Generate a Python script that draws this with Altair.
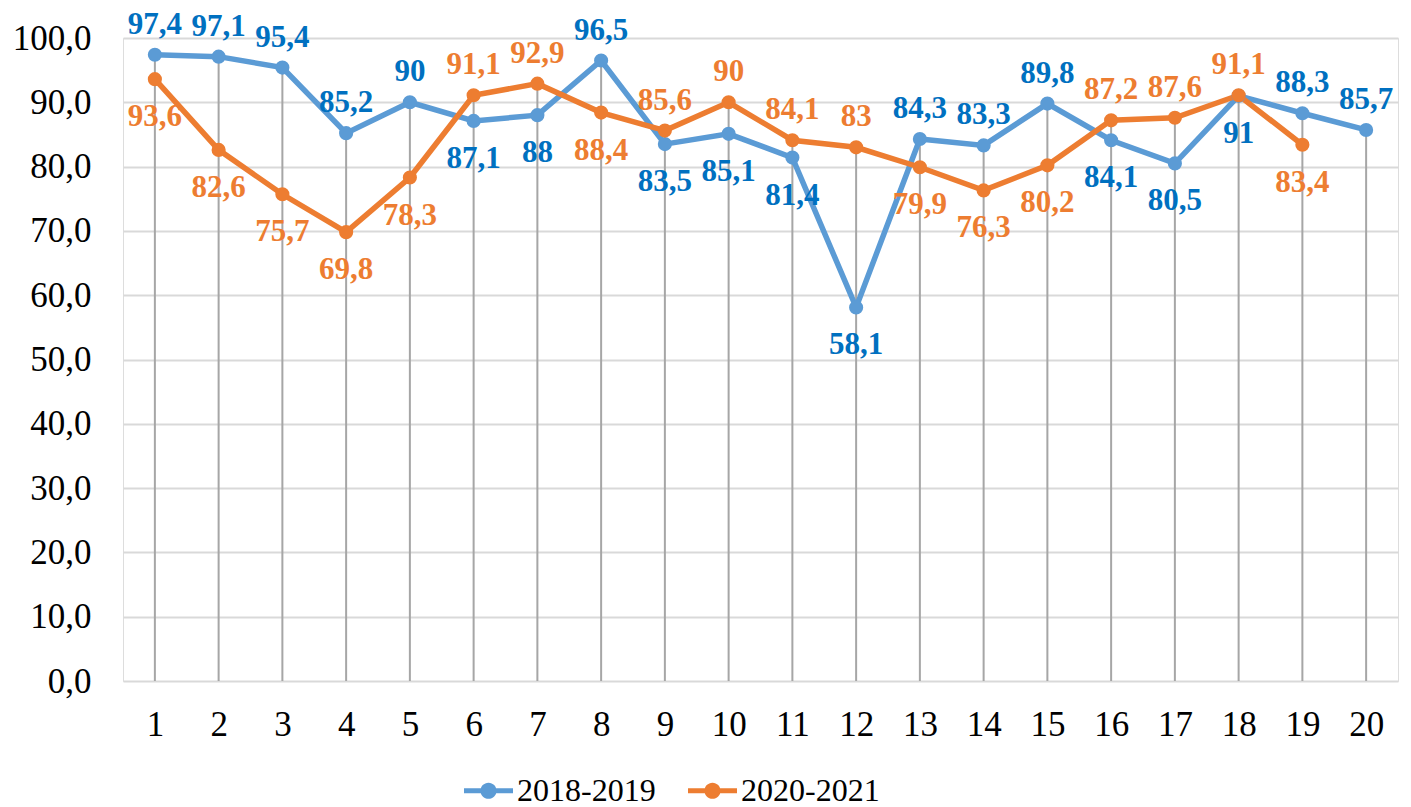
import altair as alt
import pandas as pd

categories = list(range(1, 21))
series_names = ["2018-2019", "2020-2021"]
values_2018 = [97.4, 97.1, 95.4, 85.2, 90, 87.1, 88, 96.5, 83.5, 85.1, 81.4, 58.1,
               84.3, 83.3, 89.8, 84.1, 80.5, 91, 88.3, 85.7]
values_2020 = [93.6, 82.6, 75.7, 69.8, 78.3, 91.1, 92.9, 88.4, 85.6, 90, 84.1, 83,
               79.9, 76.3, 80.2, 87.2, 87.6, 91.1, 83.4]
# label placement: a = above the point, b = below
place_2018 = ["a", "a", "a", "a", "a", "b", "b", "a", "b", "b", "b", "b",
              "a", "a", "a", "b", "b", "b", "a", "a"]
place_2020 = ["b", "b", "b", "b", "b", "a", "a", "b", "a", "a", "a", "a",
              "b", "b", "b", "a", "a", "a", "b"]

line_colors = ["#5B9BD5", "#ED7D31"]
label_colors = ["#0070C0", "#ED7D31"]
FONT = "Liberation Serif"

rows = []
for k, (name, vals, places) in enumerate([(series_names[0], values_2018, place_2018),
                                          (series_names[1], values_2020, place_2020)]):
    for i, v in enumerate(vals):
        rows.append({"x": categories[i], "series": name, "value": v,
                     "label": f"{v:g}".replace(".", ","), "pos": places[i],
                     "lc": label_colors[k]})
df = pd.DataFrame(rows)

drop = pd.DataFrame({
    "x": categories,
    "top": [max(values_2018[i], values_2020[i]) if i < len(values_2020) else values_2018[i]
            for i in range(len(categories))],
})

x_enc = alt.X("x:O", scale=alt.Scale(type="point", padding=0.5),
              axis=alt.Axis(labelAngle=0, ticks=False, domain=False, grid=False,
                            labelPadding=26, labelFontSize=35, labelFont=FONT,
                            labelColor="black", title=None))
y_scale = alt.Scale(domain=[0, 100])
y_axis = alt.Axis(values=list(range(0, 101, 10)),
                  labelExpr="replace(format(datum.value, '.1f'), '.', ',')",
                  ticks=False, domain=False, labelPadding=32, labelFontSize=35,
                  labelFont=FONT, labelColor="black", title=None,
                  gridColor="#D9D9D9", gridWidth=2)

legend_path = ("M-1,-0.1L1,-0.1L1,0.1L-1,0.1Z "
               "M0.33,0A0.33,0.33,0,1,1,-0.33,0A0.33,0.33,0,1,1,0.33,0Z")

legend = alt.Legend(title=None, orient="none", legendX=341, legendY=728,
                    direction="horizontal", symbolType=legend_path,
                    symbolSize=2400, symbolStrokeWidth=0,
                    symbolOpacity=1, labelFontSize=32, labelFont=FONT,
                    labelColor="black", columnPadding=32,
                    labelOffset=4, labelLimit=300, padding=0)
series_scale = alt.Scale(domain=series_names, range=line_colors)

rules = alt.Chart(drop).mark_rule(color="#A6A6A6", strokeWidth=2).encode(
    x=x_enc,
    y=alt.Y("top:Q", scale=y_scale, axis=y_axis),
    y2=alt.datum(0),
)

lines = alt.Chart(df).mark_line(strokeWidth=5.5).encode(
    x=x_enc,
    y=alt.Y("value:Q", scale=y_scale, axis=y_axis),
    stroke=alt.Stroke("series:N", scale=series_scale, legend=legend),
    detail="series:N",
)

points = alt.Chart(df).mark_circle(size=200, opacity=1).encode(
    x=x_enc,
    y=alt.Y("value:Q", scale=y_scale, axis=y_axis),
    fill=alt.Fill("series:N", scale=series_scale, legend=legend),
)

above = alt.Chart(df).transform_filter(alt.datum.pos == "a").mark_text(
    font=FONT, fontSize=31, fontWeight="bold", baseline="alphabetic", dy=-21
).encode(
    x=x_enc, y=alt.Y("value:Q", scale=y_scale, axis=y_axis),
    text="label:N", color=alt.Color("lc:N", scale=None),
)

below = alt.Chart(df).transform_filter(alt.datum.pos == "b").mark_text(
    font=FONT, fontSize=31, fontWeight="bold", baseline="alphabetic", dy=47
).encode(
    x=x_enc, y=alt.Y("value:Q", scale=y_scale, axis=y_axis),
    text="label:N", color=alt.Color("lc:N", scale=None),
)

chart = alt.layer(rules, lines, points, above, below).properties(
    width=1275, height=643,
    autosize=alt.AutoSizeParams(type="none"),
    padding={"left": 115, "top": 30, "right": 5, "bottom": 126},
).configure_view(stroke=None).configure(background="white")

chart.save("out.html", embed_options={"renderer": "svg", "actions": False})
